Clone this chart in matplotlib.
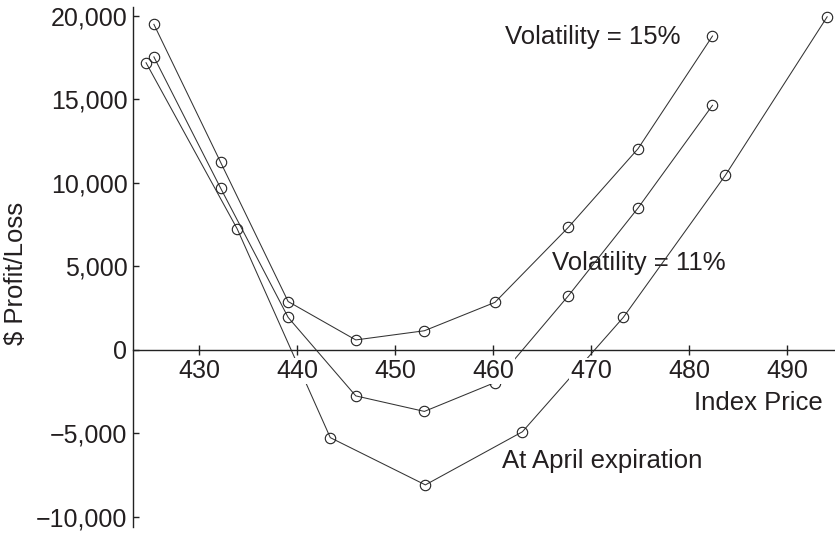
import numpy as np
from matplotlib import pyplot as plt
from matplotlib.ticker import FuncFormatter

# data
idx_vol = [425.4, 432.2, 439.1, 446.0, 453.0, 460.2, 467.7, 474.8, 482.4]
pl_vol15 = [19500, 11250, 2900, 600, 1150, 2850, 7350, 12050, 18800]
pl_vol11 = [17550, 9700, 1950, -2750, -3680, -1950, 3250, 8500, 14650]
idx_exp = [424.6, 433.9, 443.4, 453.1, 463.0, 473.3, 483.7, 494.1]
pl_exp = [17200, 7250, -5250, -8080, -4900, 1950, 10450, 19950]
xticks = [430, 440, 450, 460, 470, 480, 490]
yticks = [-10000, -5000, 0, 5000, 10000, 15000, 20000]

plt.rcParams['font.family'] = ['Liberation Sans', 'DejaVu Sans']
txtc = '#231f20'

fig = plt.figure(figsize=(8.35, 5.35), dpi=100)
ax = fig.add_axes([0.1593, 0.015, 0.8407, 0.972])

for xs, ys in [(idx_vol, pl_vol15), (idx_vol, pl_vol11), (idx_exp, pl_exp)]:
    ax.plot(xs, ys, color='#333333', lw=0.75, marker='o', ms=7.5, mfc='none',
            mec='#222222', mew=0.8, clip_on=False, zorder=2)

ax.set_xlim(423.27, 494.9)
ax.set_ylim(-10600, 20540)
ax.spines['top'].set_visible(False)
ax.spines['right'].set_visible(False)
ax.spines['bottom'].set_position(('data', 0))
for s in ['left', 'bottom']:
    ax.spines[s].set_linewidth(1.0)
    ax.spines[s].set_color('#222222')
ax.set_axisbelow(False)

ax.set_xticks(xticks)
ax.set_yticks(yticks)
ax.yaxis.set_major_formatter(FuncFormatter(lambda v, p: f'{v:,.0f}'.replace('-', '\u2212')))
ax.tick_params(axis='x', direction='inout', length=7, width=1.0, pad=3,
               labelsize=18, labelcolor=txtc, color='#222222')
ax.tick_params(axis='y', direction='in', length=4, width=1.0, pad=4,
               labelsize=18, labelcolor=txtc, color='#222222')
for lab in ax.get_xticklabels():
    lab.set_bbox(dict(facecolor='white', edgecolor='none', pad=0.5))

ax.set_ylabel('$ Profit/Loss', fontsize=18.5, color=txtc)
ax.yaxis.set_label_coords(-0.150, 0.488)

ax.text(461.2, 18740, 'Volatility = 15%', fontsize=18.5, color=txtc, ha='left', va='center')
ax.text(466.0, 5210, 'Volatility = 11%', fontsize=18.5, color=txtc, ha='left', va='center', zorder=1)
ax.text(460.9, -6650, 'At April expiration', fontsize=18.5, color=txtc, ha='left', va='center')
ax.text(493.7, -3170, 'Index Price', fontsize=18.5, color=txtc, ha='right', va='center')

plt.savefig('out.png', dpi=100)
